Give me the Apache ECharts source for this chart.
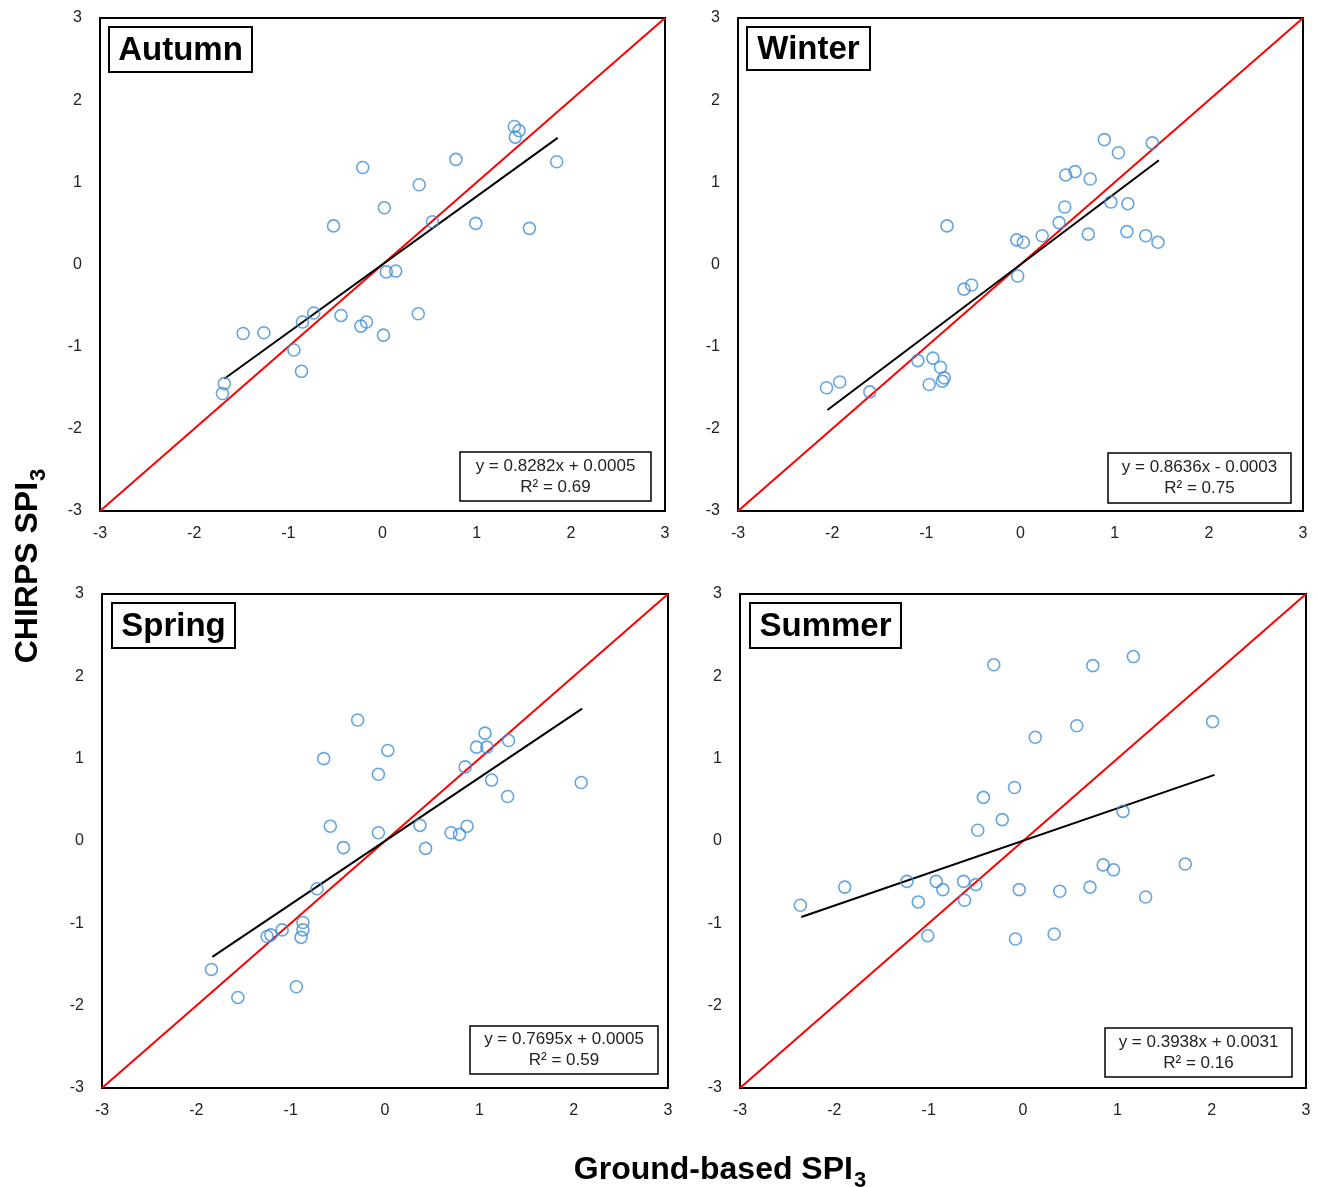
<!DOCTYPE html>
<html>
<head>
<meta charset="utf-8">
<script src="https://cdn.jsdelivr.net/npm/echarts@6/dist/echarts.min.js"></script>
<style>html,body{margin:0;padding:0;background:#fff;}#c{width:1318px;height:1187px;}</style>
</head>
<body>
<div id="c"></div>
<script>
const seasons = ['Autumn', 'Winter', 'Spring', 'Summer'];
const tickValues = [-3, -2, -1, 0, 1, 2, 3];

const autumnPoints = [
  [1.40, 1.68], [1.45, 1.63], [1.41, 1.55], [0.78, 1.28], [1.85, 1.25], [-0.21, 1.18],
  [0.39, 0.97], [0.02, 0.69], [-0.52, 0.47], [0.53, 0.52], [0.99, 0.50], [1.56, 0.44],
  [0.04, -0.09], [0.14, -0.08], [-0.73, -0.59], [-0.44, -0.62], [-0.85, -0.70], [-0.23, -0.75],
  [-0.17, -0.70], [0.38, -0.60], [-1.48, -0.84], [-1.26, -0.83], [0.01, -0.86], [-0.94, -1.04],
  [-0.86, -1.30], [-1.68, -1.45], [-1.70, -1.57]
];
const winterPoints = [
  [0.89, 1.52], [1.40, 1.48], [1.04, 1.36], [0.48, 1.09], [0.58, 1.13], [0.74, 1.04],
  [0.47, 0.70], [0.96, 0.76], [1.14, 0.74], [-0.78, 0.47], [0.41, 0.51], [0.23, 0.35],
  [-0.04, 0.30], [0.03, 0.27], [0.72, 0.37], [1.13, 0.40], [1.33, 0.35], [1.46, 0.27],
  [-0.03, -0.14], [-0.60, -0.30], [-0.52, -0.25], [-1.09, -1.17], [-0.93, -1.14], [-0.85, -1.25],
  [-0.83, -1.42], [-0.81, -1.38], [-0.97, -1.46], [-2.06, -1.50], [-1.92, -1.43], [-1.60, -1.55]
];
const springPoints = [
  [-0.29, 1.47], [1.06, 1.31], [1.31, 1.22], [0.97, 1.14], [1.08, 1.14], [0.03, 1.10],
  [-0.65, 1.00], [0.85, 0.90], [-0.07, 0.81], [1.13, 0.74], [2.08, 0.71], [1.30, 0.54],
  [-0.58, 0.18], [-0.07, 0.10], [0.37, 0.19], [0.70, 0.10], [0.79, 0.08], [0.87, 0.18],
  [-0.44, -0.08], [0.43, -0.09], [-0.72, -0.58], [-0.87, -0.99], [-0.87, -1.08], [-0.89, -1.17],
  [-1.09, -1.08], [-1.25, -1.16], [-1.21, -1.14], [-1.84, -1.56], [-0.94, -1.77], [-1.56, -1.90]
];
const summerPoints = [
  [-0.31, 2.14], [0.74, 2.13], [1.17, 2.24], [2.01, 1.45], [0.57, 1.40], [0.13, 1.26],
  [-0.09, 0.65], [-0.42, 0.53], [-0.22, 0.26], [-0.48, 0.13], [1.06, 0.36], [0.85, -0.29],
  [0.96, -0.35], [1.72, -0.28], [-1.23, -0.49], [-0.92, -0.49], [-0.63, -0.49], [-0.85, -0.59],
  [-0.50, -0.53], [-0.04, -0.59], [0.39, -0.61], [0.71, -0.56], [-1.89, -0.56], [-2.36, -0.78],
  [-1.11, -0.74], [-0.62, -0.72], [1.30, -0.68], [-1.01, -1.15], [-0.08, -1.19], [0.33, -1.13]
];
const seasonPoints = [autumnPoints, winterPoints, springPoints, summerPoints];

const slopes = [0.8282, 0.8636, 0.7695, 0.3938];
const intercepts = [0.0005, -0.0003, 0.0005, 0.0031];
const equationLabels = ['y = 0.8282x + 0.0005', 'y = 0.8636x - 0.0003', 'y = 0.7695x + 0.0005', 'y = 0.3938x + 0.0031'];
const r2Labels = ['R² = 0.69', 'R² = 0.75', 'R² = 0.59', 'R² = 0.16'];
const fitRanges = [[-1.68, 1.86], [-2.05, 1.47], [-1.83, 2.09], [-2.35, 2.03]];
const oneToOne = [[-3, -3], [3, 3]];

const FONT = '"Liberation Sans", Arial, sans-serif';

const gridBoxes = [
  {left: 100, top: 18, width: 565, height: 493},
  {left: 738, top: 18, width: 565, height: 493},
  {left: 102, top: 594, width: 566, height: 494},
  {left: 740, top: 594, width: 566, height: 494}
];
const titleBoxes = [
  {x: 109, y: 27, w: 143, h: 45},
  {x: 747, y: 27, w: 123, h: 43},
  {x: 112, y: 603, w: 123, h: 45},
  {x: 750, y: 603, w: 151, h: 45}
];
const eqBoxes = [
  {x: 460, y: 452, w: 191, h: 49},
  {x: 1108, y: 453, w: 183, h: 50},
  {x: 470, y: 1026, w: 188, h: 48},
  {x: 1105, y: 1028, w: 187, h: 49}
];

const grids = [], xAxes = [], yAxes = [], series = [], graphics = [];
seasons.forEach((s, i) => {
  grids.push(Object.assign({show: true, borderColor: '#000', borderWidth: 2, backgroundColor: '#fff'}, gridBoxes[i]));
  const axisCommon = {
    gridIndex: i, type: 'value', min: -3, max: 3, interval: 1,
    splitLine: {show: false}, axisTick: {show: false}, axisLine: {show: false},
    axisLabel: {fontFamily: FONT, fontSize: 16, color: '#222', showMinLabel: true, showMaxLabel: true,
      formatter: v => tickValues.includes(v) ? String(v) : ''}
  };
  xAxes.push(Object.assign({}, axisCommon, {axisLabel: Object.assign({}, axisCommon.axisLabel, {margin: 15})}));
  yAxes.push(Object.assign({}, axisCommon, {axisLabel: Object.assign({}, axisCommon.axisLabel, {margin: 18})}));

  series.push({
    type: 'line', xAxisIndex: i, yAxisIndex: i, data: oneToOne, symbol: 'none', silent: true,
    lineStyle: {color: '#ff0000', width: 2}, z: 2
  });
  const [x0, x1] = fitRanges[i];
  series.push({
    type: 'line', xAxisIndex: i, yAxisIndex: i, symbol: 'none', silent: true,
    data: [[x0, slopes[i] * x0 + intercepts[i]], [x1, slopes[i] * x1 + intercepts[i]]],
    lineStyle: {color: '#000', width: 2}, z: 3
  });
  series.push({
    type: 'scatter', xAxisIndex: i, yAxisIndex: i, data: seasonPoints[i], symbol: 'circle', symbolSize: 12,
    itemStyle: {color: 'rgba(0,0,0,0)', borderColor: '#3f8fd8', borderWidth: 1.6}, z: 4
  });

  const tb = titleBoxes[i];
  graphics.push({
    type: 'rect', z: 10, shape: {x: tb.x, y: tb.y, width: tb.w, height: tb.h},
    style: {fill: '#fff', stroke: '#000', lineWidth: 2}
  });
  graphics.push({
    type: 'text', z: 11, x: tb.x + tb.w / 2, y: tb.y + tb.h / 2 + 1,
    style: {text: s, font: 'bold 33px ' + FONT, fill: '#000', align: 'center', verticalAlign: 'middle'}
  });
  const eb = eqBoxes[i];
  graphics.push({
    type: 'rect', z: 10, shape: {x: eb.x, y: eb.y, width: eb.w, height: eb.h},
    style: {fill: '#fff', stroke: '#000', lineWidth: 1.5}
  });
  graphics.push({
    type: 'text', z: 11, x: eb.x + eb.w / 2, y: eb.y + eb.h / 2,
    style: {text: equationLabels[i] + '\n' + r2Labels[i], font: '17px ' + FONT, fill: '#222',
      align: 'center', verticalAlign: 'middle', lineHeight: 21}
  });
});

graphics.push({
  type: 'text', z: 11, x: 720, y: 1168,
  style: {
    text: '{a|Ground-based SPI}{b|3}', align: 'center', verticalAlign: 'middle',
    rich: {
      a: {font: 'bold 32px ' + FONT, fill: '#000', verticalAlign: 'bottom', lineHeight: 36},
      b: {font: 'bold 22px ' + FONT, fill: '#000', verticalAlign: 'bottom', lineHeight: 22, padding: [0, 0, -6, 1]}
    }
  }
});
graphics.push({
  type: 'text', z: 11, x: 26, y: 566, rotation: Math.PI / 2,
  style: {
    text: '{a|CHIRPS SPI}{b|3}', align: 'center', verticalAlign: 'middle',
    rich: {
      a: {font: 'bold 32px ' + FONT, fill: '#000', verticalAlign: 'bottom', lineHeight: 36},
      b: {font: 'bold 22px ' + FONT, fill: '#000', verticalAlign: 'bottom', lineHeight: 22, padding: [0, 0, -6, 1]}
    }
  }
});

const chart = echarts.init(document.getElementById('c'), null, {renderer: 'canvas'});
chart.setOption({
  backgroundColor: '#fff',
  animation: false,
  grid: grids,
  xAxis: xAxes,
  yAxis: yAxes,
  series: series,
  graphic: graphics
});
</script>
</body>
</html>
